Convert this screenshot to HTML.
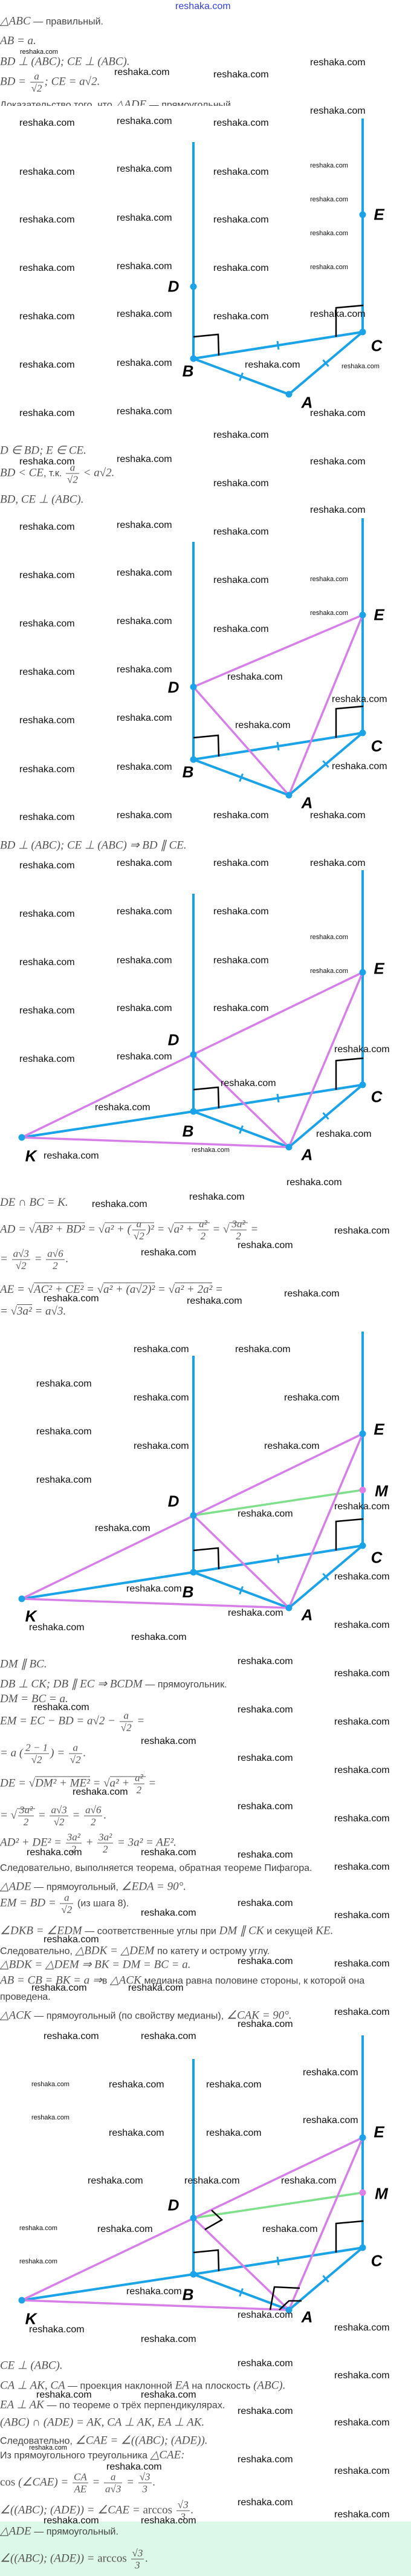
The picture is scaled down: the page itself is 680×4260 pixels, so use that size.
<!DOCTYPE html>
<html><head><meta charset="utf-8">
<style>
html,body{margin:0;padding:0;background:#fff;}
body{width:680px;height:4260px;position:relative;overflow:hidden;}
svg{position:absolute;left:0;top:0;}
.t{position:absolute;left:0;white-space:nowrap;font:italic 19px "Liberation Serif",serif;color:#555;transform:translateY(-50%);}
.r{font:normal 16px "Liberation Sans",sans-serif;color:#444;}
.n{font-style:normal;}
.f{display:inline-block;vertical-align:middle;text-align:center;font-size:17px;margin:0 2px;}
.f>span{display:block;padding:0 2px;line-height:19px;}
.f>span:first-child{border-bottom:1px solid #555;}
.o{border-top:1px solid #555;}
.w{position:absolute;font:16px "Liberation Sans",sans-serif;color:#111;white-space:nowrap;}
.s{position:absolute;font:11px "Liberation Sans",sans-serif;color:#111;white-space:nowrap;}
.L{position:absolute;font:italic bold 26px "Liberation Sans",sans-serif;color:#000;transform:translate(-50%,-50%);}
.green{position:absolute;left:0;top:4170px;width:680px;height:90px;background:#dcf8e8;}
</style></head><body>
<div class="green"></div>
<svg width="680" height="4260" viewBox="0 0 680 4260">
<defs>
<g id="base">
<polyline points="320,0 600,-44 478,59 320,0" fill="none" stroke="#1aa3e8" stroke-width="4" stroke-linejoin="round"/>
<g stroke="#1aa3e8" stroke-width="3">
<line x1="459" y1="-29" x2="461" y2="-15"/>
<line x1="401.5" y1="23.5" x2="396.5" y2="36.5"/>
<line x1="534.5" y1="2.2" x2="543.5" y2="12.8"/>
</g>
<g fill="none" stroke="#000" stroke-width="2.5">
<polyline points="320,-36 361,-40 362,-5"/>
<polyline points="601,-88 556,-84 556,-36"/>
</g>
</g>
</defs>
<!-- diagram 1 B y=593 -->
<g transform="translate(0,593)">
<line x1="320" y1="-358" x2="320" y2="0" stroke="#1aa3e8" stroke-width="4"/>
<line x1="600" y1="-397" x2="600" y2="-44" stroke="#1aa3e8" stroke-width="4"/>
<use href="#base"/>
<g fill="#1aa3e8"><circle cx="320" cy="0" r="5.5"/><circle cx="600" cy="-44" r="5.5"/><circle cx="478" cy="59" r="5.5"/><circle cx="320" cy="-119" r="5.5"/><circle cx="600" cy="-238" r="5.5"/></g>
</g>
<!-- diagram 2 B y=1256 -->
<g transform="translate(0,1256)">
<line x1="320" y1="-360" x2="320" y2="0" stroke="#1aa3e8" stroke-width="4"/>
<line x1="600" y1="-399" x2="600" y2="-44" stroke="#1aa3e8" stroke-width="4"/>
<use href="#base"/>
<g stroke="#d77fe8" stroke-width="3.5" fill="none"><polyline points="320,-120 600,-239 478,59 320,-120"/></g>
<g fill="#1aa3e8"><circle cx="320" cy="0" r="5.5"/><circle cx="600" cy="-44" r="5.5"/><circle cx="478" cy="59" r="5.5"/><circle cx="320" cy="-120" r="5.5"/><circle cx="600" cy="-239" r="5.5"/></g>
</g>
<!-- diagram 3 B y=1838 -->
<g transform="translate(0,1838)">
<line x1="320" y1="-360" x2="320" y2="0" stroke="#1aa3e8" stroke-width="4"/>
<line x1="600" y1="-399" x2="600" y2="-44" stroke="#1aa3e8" stroke-width="4"/>
<line x1="36" y1="43" x2="320" y2="0" stroke="#1aa3e8" stroke-width="4"/>
<use href="#base"/>
<g stroke="#d77fe8" stroke-width="3.5" fill="none"><line x1="36" y1="43" x2="600" y2="-230"/><polyline points="600,-230 478,59 320,-94"/><line x1="36" y1="43" x2="478" y2="59"/></g>
<g fill="#1aa3e8"><circle cx="320" cy="0" r="5.5"/><circle cx="600" cy="-44" r="5.5"/><circle cx="478" cy="59" r="5.5"/><circle cx="320" cy="-94" r="5.5"/><circle cx="600" cy="-230" r="5.5"/><circle cx="36" cy="43" r="5.5"/></g>
</g>
<!-- diagram 4 B y=2600 -->
<g transform="translate(0,2600)">
<line x1="320" y1="-358" x2="320" y2="0" stroke="#1aa3e8" stroke-width="4"/>
<line x1="600" y1="-398" x2="600" y2="-44" stroke="#1aa3e8" stroke-width="4"/>
<line x1="36" y1="44" x2="320" y2="0" stroke="#1aa3e8" stroke-width="4"/>
<use href="#base"/>
<line x1="320" y1="-94" x2="600" y2="-136" stroke="#7ee08a" stroke-width="3.5"/>
<g stroke="#d77fe8" stroke-width="3.5" fill="none"><line x1="36" y1="44" x2="600" y2="-229"/><polyline points="600,-229 478,59 320,-94"/><line x1="36" y1="44" x2="478" y2="59"/></g>
<g fill="#1aa3e8"><circle cx="320" cy="0" r="5.5"/><circle cx="600" cy="-44" r="5.5"/><circle cx="478" cy="59" r="5.5"/><circle cx="320" cy="-94" r="5.5"/><circle cx="600" cy="-229" r="5.5"/><circle cx="36" cy="44" r="5.5"/></g>
<circle cx="600" cy="-136" r="5.5" fill="#e07fe8"/>
</g>
<!-- diagram 5 B y=3761 -->
<g transform="translate(0,3761)">
<line x1="320" y1="-356" x2="320" y2="0" stroke="#1aa3e8" stroke-width="4"/>
<line x1="600" y1="-395" x2="600" y2="-44" stroke="#1aa3e8" stroke-width="4"/>
<line x1="36" y1="43" x2="320" y2="0" stroke="#1aa3e8" stroke-width="4"/>
<use href="#base"/>
<line x1="320" y1="-93" x2="600" y2="-135" stroke="#7ee08a" stroke-width="3.5"/>
<g stroke="#d77fe8" stroke-width="3.5" fill="none"><line x1="36" y1="43" x2="600" y2="-226"/><polyline points="600,-226 478,59 320,-93"/><line x1="36" y1="43" x2="478" y2="59"/></g>
<g fill="none" stroke="#000" stroke-width="2.5">
<polyline points="339,-74 367,-90 350,-106"/>
<polyline points="447,59 454,21 496,23"/>
<polyline points="462,59 478,44 499,44"/>
</g>
<g fill="#1aa3e8"><circle cx="320" cy="0" r="5.5"/><circle cx="600" cy="-44" r="5.5"/><circle cx="478" cy="59" r="5.5"/><circle cx="320" cy="-93" r="5.5"/><circle cx="600" cy="-226" r="5.5"/><circle cx="36" cy="43" r="5.5"/></g>
<circle cx="600" cy="-135" r="5.5" fill="#e07fe8"/>
</g>
</svg>

<!-- labels -->
<div class="L" style="left:287px;top:474px">D</div><div class="L" style="left:627px;top:355px">E</div><div class="L" style="left:623px;top:572px">C</div><div class="L" style="left:311px;top:614px">B</div><div class="L" style="left:508px;top:666px">A</div>
<div class="L" style="left:287px;top:1137px">D</div><div class="L" style="left:627px;top:1017px">E</div><div class="L" style="left:623px;top:1234px">C</div><div class="L" style="left:311px;top:1277px">B</div><div class="L" style="left:508px;top:1328px">A</div>
<div class="L" style="left:287px;top:1720px">D</div><div class="L" style="left:627px;top:1602px">E</div><div class="L" style="left:623px;top:1814px">C</div><div class="L" style="left:311px;top:1871px">B</div><div class="L" style="left:508px;top:1910px">A</div><div class="L" style="left:51px;top:1912px">K</div>
<div class="L" style="left:287px;top:2483px">D</div><div class="L" style="left:627px;top:2364px">E</div><div class="L" style="left:631px;top:2466px">M</div><div class="L" style="left:623px;top:2576px">C</div><div class="L" style="left:311px;top:2633px">B</div><div class="L" style="left:508px;top:2671px">A</div><div class="L" style="left:51px;top:2673px">K</div>
<div class="L" style="left:287px;top:3647px">D</div><div class="L" style="left:627px;top:3526px">E</div><div class="L" style="left:631px;top:3628px">M</div><div class="L" style="left:623px;top:3739px">C</div><div class="L" style="left:311px;top:3795px">B</div><div class="L" style="left:508px;top:3832px">A</div><div class="L" style="left:51px;top:3835px">K</div>

<!-- text -->
<div style="position:absolute;left:290px;top:2px;font:16px 'Liberation Sans',sans-serif;color:#3340e0;">reshaka.com</div>
<div class="t" style="top:35px">△ABC <span class="r">— правильный.</span></div>
<div class="t" style="top:68px">AB = a.</div>
<div class="t" style="top:102px">BD ⊥ (ABC); CE ⊥ (ABC).</div>
<div class="t" style="top:136px">BD = <span class="f"><span>a</span><span>√2</span></span>; CE = a√2.</div>
<div style="position:absolute;left:0;top:163px;height:12px;overflow:hidden;width:680px"><div class="t" style="top:10px"><span class="r">Доказательство того, что</span> △ADE <span class="r">— прямоугольный.</span></div></div>

<div class="t" style="top:745px">D ∈ BD; E ∈ CE.</div>
<div class="t" style="top:783px">BD &lt; CE<span class="r">, т.к.</span> <span class="f"><span>a</span><span>√2</span></span> &lt; a√2.</div>
<div class="t" style="top:826px">BD, CE ⊥ (ABC).</div>
<div class="t" style="top:1398px">BD ⊥ (ABC); CE ⊥ (ABC) ⇒ BD ∥ CE.</div>

<div class="t" style="top:1989px">DE ∩ BC = K.</div>
<div class="t" style="top:2034px">AD = √<span class="o">AB² + BD²</span> = √<span class="o">a² + (<span class="f"><span>a</span><span>√2</span></span>)²</span> = √<span class="o">a² + <span class="f"><span>a²</span><span>2</span></span></span> = √<span class="o"><span class="f"><span>3a²</span><span>2</span></span></span> =</div>
<div class="t" style="top:2083px">= <span class="f"><span>a√3</span><span>√2</span></span> = <span class="f"><span>a√6</span><span>2</span></span>.</div>
<div class="t" style="top:2133px">AE = √<span class="o">AC² + CE²</span> = √<span class="o">a² + (a√2)²</span> = √<span class="o">a² + 2a²</span> =</div>
<div class="t" style="top:2169px">= √<span class="o">3a²</span> = a√3.</div>

<div class="t" style="top:2752px">DM ∥ BC.</div>
<div class="t" style="top:2785px">DB ⊥ CK; DB ∥ EC ⇒ BCDM <span class="r">— прямоугольник.</span></div>
<div class="t" style="top:2810px">DM = BC = a.</div>
<div class="t" style="top:2847px">EM = EC − BD = a√2 − <span class="f"><span>a</span><span>√2</span></span> =</div>
<div class="t" style="top:2900px">= a (<span class="f"><span>2 − 1</span><span>√2</span></span>) = <span class="f"><span>a</span><span>√2</span></span>.</div>
<div class="t" style="top:2950px">DE = √<span class="o">DM² + ME²</span> = √<span class="o">a² + <span class="f"><span>a²</span><span>2</span></span></span> =</div>
<div class="t" style="top:3003px">= √<span class="o"><span class="f"><span>3a²</span><span>2</span></span></span> = <span class="f"><span>a√3</span><span>√2</span></span> = <span class="f"><span>a√6</span><span>2</span></span>.</div>
<div class="t" style="top:3048px">AD² + DE² = <span class="f"><span>3a²</span><span>2</span></span> + <span class="f"><span>3a²</span><span>2</span></span> = 3a² = AE².</div>
<div class="t" style="top:3089px"><span class="r">Следовательно, выполняется теорема, обратная теореме Пифагора.</span></div>
<div class="t" style="top:3120px">△ADE <span class="r">— прямоугольный,</span> ∠EDA = 90°.</div>
<div class="t" style="top:3148px">EM = BD = <span class="f"><span>a</span><span>√2</span></span> <span class="r">(из шага 8).</span></div>
<div class="t" style="top:3193px">∠DKB = ∠EDM <span class="r">— соответственные углы при</span> DM ∥ CK <span class="r">и секущей</span> KE.</div>
<div class="t" style="top:3226px"><span class="r">Следовательно,</span> △BDK = △DEM <span class="r">по катету и острому углу.</span></div>
<div class="t" style="top:3249px">△BDK = △DEM ⇒ BK = DM = BC = a.</div>
<div class="t" style="top:3275px">AB = CB = BK = a ⇒<span class="r">в</span> △ACK <span class="r">медиана равна половине стороны, к которой она</span></div>
<div class="t" style="top:3302px"><span class="r">проведена.</span></div>
<div class="t" style="top:3333px">△ACK <span class="r">— прямоугольный (по свойству медианы),</span> ∠CAK = 90°.</div>

<div class="t" style="top:3912px">CE ⊥ (ABC).</div>
<div class="t" style="top:3945px">CA ⊥ AK, CA <span class="r">— проекция наклонной</span> EA <span class="r">на плоскость</span> (ABC).</div>
<div class="t" style="top:3977px">EA ⊥ AK <span class="r">— по теореме о трёх перпендикулярах.</span></div>
<div class="t" style="top:4006px">(ABC) ∩ (ADE) = AK, CA ⊥ AK, EA ⊥ AK.</div>
<div class="t" style="top:4036px"><span class="r">Следовательно,</span> ∠CAE = ∠((ABC); (ADE)).</div>
<div class="t" style="top:4060px"><span class="r">Из прямоугольного треугольника</span> △CAE:</div>
<div class="t" style="top:4106px"><span class="n">cos</span> (∠CAE) = <span class="f"><span>CA</span><span>AE</span></span> = <span class="f"><span>a</span><span>a√3</span></span> = <span class="f"><span>√3</span><span>3</span></span>.</div>
<div class="t" style="top:4152px">∠((ABC); (ADE)) = ∠CAE = <span class="n">arccos</span> <span class="f"><span>√3</span><span>3</span></span>.</div>
<div class="t" style="top:4186px">△ADE <span class="r">— прямоугольный.</span></div>
<div class="t" style="top:4232px">∠((ABC); (ADE)) = <span class="n">arccos</span> <span class="f"><span>√3</span><span>3</span></span>.</div>

<!-- watermarks -->
<div class="s" style="left:33px;top:80px">reshaka.com</div>
<div class="w" style="left:189px;top:111px">reshaka.com</div><div class="w" style="left:353px;top:115px">reshaka.com</div><div class="w" style="left:513px;top:95px">reshaka.com</div><div class="w" style="left:513px;top:175px">reshaka.com</div>
<div class="w" style="left:32px;top:195px">reshaka.com</div><div class="w" style="left:193px;top:192px">reshaka.com</div><div class="w" style="left:353px;top:195px">reshaka.com</div>
<div class="w" style="left:32px;top:276px">reshaka.com</div><div class="w" style="left:193px;top:271px">reshaka.com</div><div class="w" style="left:353px;top:276px">reshaka.com</div><div class="s" style="left:513px;top:268px">reshaka.com</div>
<div class="s" style="left:513px;top:324px">reshaka.com</div><div class="s" style="left:513px;top:380px">reshaka.com</div><div class="s" style="left:513px;top:436px">reshaka.com</div>
<div class="w" style="left:32px;top:355px">reshaka.com</div><div class="w" style="left:193px;top:352px">reshaka.com</div><div class="w" style="left:353px;top:355px">reshaka.com</div>
<div class="w" style="left:32px;top:435px">reshaka.com</div><div class="w" style="left:193px;top:432px">reshaka.com</div><div class="w" style="left:353px;top:435px">reshaka.com</div>
<div class="w" style="left:32px;top:515px">reshaka.com</div><div class="w" style="left:193px;top:511px">reshaka.com</div><div class="w" style="left:353px;top:515px">reshaka.com</div><div class="w" style="left:513px;top:511px">reshaka.com</div>
<div class="w" style="left:32px;top:595px">reshaka.com</div><div class="w" style="left:193px;top:592px">reshaka.com</div><div class="w" style="left:405px;top:595px">reshaka.com</div><div class="s" style="left:565px;top:600px">reshaka.com</div>
<div class="w" style="left:32px;top:675px">reshaka.com</div><div class="w" style="left:193px;top:672px">reshaka.com</div><div class="w" style="left:513px;top:675px">reshaka.com</div>

<div class="w" style="left:353px;top:711px">reshaka.com</div><div class="w" style="left:32px;top:755px">reshaka.com</div><div class="w" style="left:193px;top:751px">reshaka.com</div><div class="w" style="left:513px;top:755px">reshaka.com</div><div class="w" style="left:353px;top:791px">reshaka.com</div><div class="w" style="left:513px;top:835px">reshaka.com</div>
<div class="w" style="left:32px;top:863px">reshaka.com</div><div class="w" style="left:193px;top:860px">reshaka.com</div><div class="w" style="left:353px;top:871px">reshaka.com</div>
<div class="w" style="left:32px;top:943px">reshaka.com</div><div class="w" style="left:193px;top:939px">reshaka.com</div><div class="w" style="left:353px;top:951px">reshaka.com</div><div class="s" style="left:513px;top:952px">reshaka.com</div>
<div class="w" style="left:32px;top:1023px">reshaka.com</div><div class="w" style="left:193px;top:1019px">reshaka.com</div><div class="w" style="left:353px;top:1032px">reshaka.com</div><div class="s" style="left:513px;top:1008px">reshaka.com</div>
<div class="w" style="left:32px;top:1103px">reshaka.com</div><div class="w" style="left:193px;top:1099px">reshaka.com</div><div class="w" style="left:376px;top:1111px">reshaka.com</div><div class="w" style="left:549px;top:1148px">reshaka.com</div>
<div class="w" style="left:32px;top:1183px">reshaka.com</div><div class="w" style="left:193px;top:1179px">reshaka.com</div><div class="w" style="left:389px;top:1191px">reshaka.com</div>
<div class="w" style="left:32px;top:1264px">reshaka.com</div><div class="w" style="left:193px;top:1260px">reshaka.com</div><div class="w" style="left:549px;top:1259px">reshaka.com</div>
<div class="w" style="left:32px;top:1343px">reshaka.com</div><div class="w" style="left:193px;top:1340px">reshaka.com</div><div class="w" style="left:353px;top:1340px">reshaka.com</div><div class="w" style="left:513px;top:1340px">reshaka.com</div>

<div class="w" style="left:32px;top:1423px">reshaka.com</div><div class="w" style="left:193px;top:1419px">reshaka.com</div><div class="w" style="left:353px;top:1419px">reshaka.com</div><div class="w" style="left:513px;top:1419px">reshaka.com</div>
<div class="w" style="left:32px;top:1503px">reshaka.com</div><div class="w" style="left:193px;top:1499px">reshaka.com</div><div class="w" style="left:353px;top:1499px">reshaka.com</div><div class="s" style="left:513px;top:1544px">reshaka.com</div>
<div class="w" style="left:32px;top:1583px">reshaka.com</div><div class="w" style="left:193px;top:1580px">reshaka.com</div><div class="w" style="left:353px;top:1580px">reshaka.com</div><div class="s" style="left:513px;top:1600px">reshaka.com</div>
<div class="w" style="left:32px;top:1663px">reshaka.com</div><div class="w" style="left:193px;top:1659px">reshaka.com</div><div class="w" style="left:353px;top:1659px">reshaka.com</div>
<div class="w" style="left:32px;top:1743px">reshaka.com</div><div class="w" style="left:193px;top:1739px">reshaka.com</div><div class="w" style="left:553px;top:1727px">reshaka.com</div>
<div class="w" style="left:365px;top:1783px">reshaka.com</div><div class="w" style="left:157px;top:1823px">reshaka.com</div><div class="w" style="left:523px;top:1867px">reshaka.com</div><div class="w" style="left:72px;top:1903px">reshaka.com</div><div class="s" style="left:317px;top:1896px">reshaka.com</div>
<div class="w" style="left:474px;top:1947px">reshaka.com</div><div class="w" style="left:313px;top:1971px">reshaka.com</div><div class="w" style="left:152px;top:1983px">reshaka.com</div><div class="w" style="left:553px;top:2027px">reshaka.com</div><div class="w" style="left:393px;top:2051px">reshaka.com</div><div class="w" style="left:233px;top:2063px">reshaka.com</div>

<div class="w" style="left:72px;top:2139px">reshaka.com</div><div class="w" style="left:309px;top:2143px">reshaka.com</div><div class="w" style="left:470px;top:2131px">reshaka.com</div>
<div class="w" style="left:221px;top:2223px">reshaka.com</div><div class="w" style="left:389px;top:2223px">reshaka.com</div><div class="w" style="left:60px;top:2280px">reshaka.com</div><div class="w" style="left:221px;top:2303px">reshaka.com</div><div class="w" style="left:470px;top:2303px">reshaka.com</div>
<div class="w" style="left:60px;top:2359px">reshaka.com</div><div class="w" style="left:221px;top:2383px">reshaka.com</div><div class="w" style="left:437px;top:2383px">reshaka.com</div><div class="w" style="left:60px;top:2439px">reshaka.com</div>
<div class="w" style="left:553px;top:2483px">reshaka.com</div><div class="w" style="left:393px;top:2495px">reshaka.com</div><div class="w" style="left:157px;top:2519px">reshaka.com</div><div class="w" style="left:553px;top:2599px">reshaka.com</div><div class="w" style="left:209px;top:2619px">reshaka.com</div>
<div class="w" style="left:377px;top:2659px">reshaka.com</div><div class="w" style="left:48px;top:2683px">reshaka.com</div><div class="w" style="left:553px;top:2679px">reshaka.com</div><div class="w" style="left:217px;top:2699px">reshaka.com</div><div class="w" style="left:393px;top:2739px">reshaka.com</div><div class="w" style="left:553px;top:2759px">reshaka.com</div>

<div class="w" style="left:56px;top:2815px">reshaka.com</div><div class="w" style="left:393px;top:2819px">reshaka.com</div><div class="w" style="left:553px;top:2839px">reshaka.com</div><div class="w" style="left:233px;top:2871px">reshaka.com</div><div class="w" style="left:393px;top:2899px">reshaka.com</div><div class="w" style="left:553px;top:2919px">reshaka.com</div>
<div class="w" style="left:120px;top:2955px">reshaka.com</div><div class="w" style="left:393px;top:2979px">reshaka.com</div><div class="w" style="left:553px;top:2999px">reshaka.com</div><div class="w" style="left:44px;top:3055px">reshaka.com</div><div class="w" style="left:233px;top:3055px">reshaka.com</div><div class="w" style="left:393px;top:3059px">reshaka.com</div><div class="w" style="left:553px;top:3079px">reshaka.com</div>
<div class="w" style="left:393px;top:3139px">reshaka.com</div><div class="w" style="left:233px;top:3155px">reshaka.com</div><div class="w" style="left:553px;top:3159px">reshaka.com</div><div class="w" style="left:72px;top:3199px">reshaka.com</div><div class="w" style="left:393px;top:3235px">reshaka.com</div><div class="w" style="left:553px;top:3239px">reshaka.com</div>
<div class="w" style="left:52px;top:3279px">reshaka.com</div><div class="w" style="left:212px;top:3279px">reshaka.com</div><div class="w" style="left:553px;top:3319px">reshaka.com</div><div class="w" style="left:393px;top:3339px">reshaka.com</div><div class="w" style="left:72px;top:3359px">reshaka.com</div><div class="w" style="left:233px;top:3359px">reshaka.com</div>
<div class="w" style="left:501px;top:3419px">reshaka.com</div><div class="s" style="left:52px;top:3441px">reshaka.com</div><div class="w" style="left:180px;top:3439px">reshaka.com</div><div class="w" style="left:341px;top:3439px">reshaka.com</div>

<div class="s" style="left:52px;top:3496px">reshaka.com</div><div class="w" style="left:501px;top:3498px">reshaka.com</div><div class="w" style="left:180px;top:3519px">reshaka.com</div><div class="w" style="left:341px;top:3519px">reshaka.com</div>
<div class="w" style="left:145px;top:3598px">reshaka.com</div><div class="w" style="left:305px;top:3598px">reshaka.com</div><div class="w" style="left:465px;top:3598px">reshaka.com</div><div class="s" style="left:32px;top:3679px">reshaka.com</div><div class="w" style="left:161px;top:3678px">reshaka.com</div><div class="w" style="left:434px;top:3678px">reshaka.com</div>
<div class="s" style="left:32px;top:3734px">reshaka.com</div><div class="w" style="left:209px;top:3781px">reshaka.com</div><div class="w" style="left:393px;top:3820px">reshaka.com</div><div class="w" style="left:553px;top:3841px">reshaka.com</div><div class="w" style="left:48px;top:3844px">reshaka.com</div><div class="w" style="left:233px;top:3860px">reshaka.com</div>
<div class="w" style="left:393px;top:3900px">reshaka.com</div><div class="w" style="left:553px;top:3920px">reshaka.com</div><div class="w" style="left:60px;top:3952px">reshaka.com</div><div class="w" style="left:233px;top:3952px">reshaka.com</div><div class="w" style="left:393px;top:3979px">reshaka.com</div><div class="w" style="left:553px;top:3998px">reshaka.com</div>
<div class="s" style="left:48px;top:4042px">reshaka.com</div><div class="w" style="left:393px;top:4059px">reshaka.com</div><div class="w" style="left:176px;top:4071px">reshaka.com</div><div class="w" style="left:553px;top:4078px">reshaka.com</div><div class="w" style="left:393px;top:4130px">reshaka.com</div><div class="w" style="left:553px;top:4150px">reshaka.com</div><div class="w" style="left:72px;top:4160px">reshaka.com</div><div class="w" style="left:233px;top:4160px">reshaka.com</div>
</body></html>
